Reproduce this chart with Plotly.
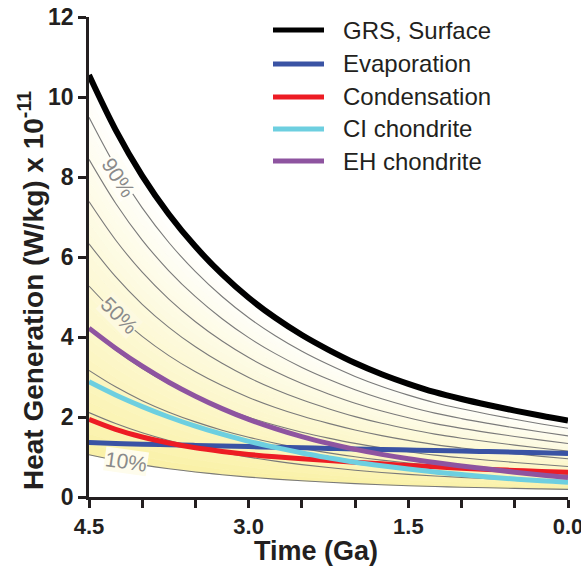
import plotly.graph_objects as go

# ---- data ----
time_ga = [4.5, 4.25, 4.0, 3.75, 3.5, 3.25, 3.0, 2.75, 2.5, 2.25, 2.0, 1.75, 1.5, 1.25, 1.0, 0.75, 0.5, 0.25, 0.0]
grs_surface = [10.55, 9.18, 8.03, 7.07, 6.26, 5.57, 4.98, 4.48, 4.05, 3.68, 3.35, 3.07, 2.83, 2.62, 2.45, 2.3, 2.16, 2.03, 1.91]
evaporation = [1.36, 1.34, 1.32, 1.305, 1.29, 1.275, 1.26, 1.245, 1.23, 1.215, 1.2, 1.19, 1.175, 1.16, 1.15, 1.135, 1.12, 1.105, 1.09]
condensation = [1.94, 1.69, 1.5, 1.35, 1.23, 1.14, 1.065, 1.005, 0.955, 0.91, 0.87, 0.83, 0.79, 0.755, 0.72, 0.69, 0.665, 0.64, 0.62]
ci_chondrite = [2.88, 2.55, 2.26, 2.0, 1.77, 1.57, 1.39, 1.24, 1.1, 0.98, 0.87, 0.78, 0.7, 0.625, 0.56, 0.5, 0.45, 0.405, 0.37]
eh_chondrite = [4.22, 3.72, 3.27, 2.87, 2.52, 2.21, 1.94, 1.71, 1.51, 1.34, 1.19, 1.065, 0.955, 0.86, 0.775, 0.7, 0.62, 0.55, 0.49]

series_names = ["GRS, Surface", "Evaporation", "Condensation", "CI chondrite", "EH chondrite"]
series_values = [grs_surface, evaporation, condensation, ci_chondrite, eh_chondrite]
series_colors = ["#000000", "#3A53A4", "#ED1C24", "#6DCFE0", "#8E54A0"]

percent_levels = [10, 20, 30, 40, 50, 60, 70, 80, 90]
labelled_levels = [90, 50, 10]
label_time = [4.22, 4.215, 4.15]
label_value = [8.0, 4.53, 0.88]

x_tick_vals = [4.5, 3.0, 1.5, 0.0]
x_tick_text = ["4.5", "3.0", "1.5", "0.0"]
x_minor_vals = [4.0, 3.5, 2.5, 2.0, 1.0, 0.5]
y_tick_vals = [0, 2, 4, 6, 8, 10, 12]

x_title = "Time (Ga)"
y_title = "Heat Generation (W/kg) x 10<sup>-11</sup>"

FONT = "Liberation Sans, Arial, Helvetica, sans-serif"
AX = "#231F20"

W, H = 581, 573
PL, PR, PT, PB = 89, 568, 17, 497

def px(xp):
    return (xp - PL) / (PR - PL)
def py(yp):
    return (PB - yp) / (PB - PT)

fig = go.Figure()

# ---- gradient fill between 10% and 100% of GRS ----
yellow = (250, 241, 165)
n_bands = 36
f_lo, f_hi = 0.10, 1.0
step = (f_hi - f_lo) / n_bands
for i in range(n_bands):
    a = f_lo + i * step
    b = a + step
    t = ((a + b) / 2 - f_lo) / (f_hi - f_lo)
    w = t ** 0.8
    col = tuple(round(yellow[k] + (255 - yellow[k]) * w) for k in range(3))
    c = "rgb(%d,%d,%d)" % col
    lo = [a * g for g in grs_surface]
    hi = [b * g for g in grs_surface]
    fig.add_trace(go.Scatter(
        x=time_ga + time_ga[::-1], y=lo + hi[::-1], mode="lines", fill="toself",
        fillcolor=c, line=dict(width=0.8, color=c), hoverinfo="skip", showlegend=False))

# ---- percentage lines ----
for p in percent_levels:
    fig.add_trace(go.Scatter(
        x=time_ga, y=[p / 100 * g for g in grs_surface], mode="lines",
        line=dict(color="#7a7a7a", width=1.1, shape="spline"),
        hoverinfo="skip", showlegend=False))

# ---- main series ----
widths = [6, 5, 5, 5, 5]
order = [1, 2, 3, 4, 0]
for i in order:
    fig.add_trace(go.Scatter(
        x=time_ga, y=series_values[i], mode="lines", name=series_names[i],
        line=dict(color=series_colors[i], width=widths[i], shape="spline"),
        showlegend=False))

# ---- percent labels ----
angles = [57, 45, 8]
bgs = ["rgb(255,254,247)", "rgb(253,249,224)", "rgb(254,252,236)"]
for lv, tx, vy, ang, bg in zip(labelled_levels, label_time, label_value, angles, bgs):
    fig.add_annotation(x=tx, y=vy, text="%d%%" % lv, showarrow=False, textangle=ang,
                       font=dict(family=FONT, size=21, color="#8a8a8a"),
                       bgcolor=bg, borderpad=0)

# ---- legend (drawn manually) ----
rows = [30, 64, 97, 129, 161]
for name, col, yr in zip(series_names, series_colors, rows):
    fig.add_shape(type="line", xref="paper", yref="paper", x0=px(273), x1=px(324),
                  y0=py(yr), y1=py(yr), line=dict(color=col, width=5))
    fig.add_annotation(xref="paper", yref="paper", x=px(341), y=py(yr), text=name,
                       showarrow=False, xanchor="left", yanchor="middle",
                       font=dict(family=FONT, size=24, color="#231F20"))

# ---- axis titles ----
fig.add_annotation(xref="paper", yref="paper", x=px(316), y=py(551), text=x_title,
                   showarrow=False, xanchor="center", yanchor="middle",
                   font=dict(family=FONT, size=27, color=AX, weight="bold"))
fig.add_annotation(xref="paper", yref="paper", x=px(31), y=py(291), text=y_title,
                   showarrow=False, xanchor="center", yanchor="middle", textangle=-90,
                   font=dict(family=FONT, size=28, color=AX, weight="bold"))

fig.update_layout(
    width=W, height=H,
    margin=dict(l=PL, r=W - PR, t=PT, b=H - PB, autoexpand=False),
    paper_bgcolor="white", plot_bgcolor="white",
    showlegend=False,
    font=dict(family=FONT, color=AX),
    xaxis=dict(range=[4.5, 0], tickvals=x_tick_vals, ticktext=x_tick_text,
               ticks="outside", ticklen=8, tickwidth=2.5, tickcolor=AX, automargin=False,
               ticklabeloverflow="allow",
               minor=dict(tickvals=x_minor_vals, ticks="outside", ticklen=8, tickwidth=2.5,
                          tickcolor=AX, showgrid=False),
               showline=True, linewidth=2.5, linecolor=AX, showgrid=False, zeroline=False,
               tickfont=dict(family=FONT, size=22, color=AX, weight="bold")),
    yaxis=dict(range=[0, 12], tickvals=y_tick_vals, automargin=False,
               ticklabeloverflow="allow",
               ticks="outside", ticklen=8, tickwidth=2.5, tickcolor=AX,
               showline=True, linewidth=2.5, linecolor=AX, showgrid=False, zeroline=False,
               tickfont=dict(family=FONT, size=23, color=AX, weight="bold")),
)

fig.write_html("out.html", config={"displayModeBar": False},
               post_script="document.body.style.margin='0';document.body.style.overflow='hidden';")
